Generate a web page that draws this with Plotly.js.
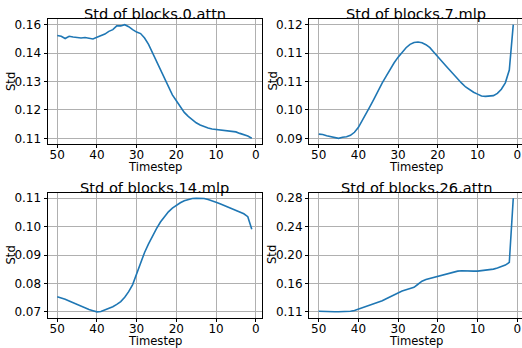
<!DOCTYPE html>
<html>
<head>
<meta charset="utf-8">
<script src="https://cdn.plot.ly/plotly-3.0.1.min.js"></script>
<style>html,body{margin:0;padding:0;background:#fff;}#chart{width:522px;height:348px;}</style>
</head>
<body>
<div id="chart"></div>
<script>
// Timesteps 50 -> 1
const timesteps = [50,49,48,47,46,45,44,43,42,41,40,39,38,37,36,35,34,33,32,31,30,29,28,27,26,25,24,23,22,21,20,19,18,17,16,15,14,13,12,11,10,9,8,7,6,5,4,3,2,1];

const titles = ["Std of blocks.0.attn", "Std of blocks.7.mlp", "Std of blocks.14.mlp", "Std of blocks.26.attn"];

const std_blocks0_attn = [0.1516,0.1513,0.1504,0.1513,0.1510,0.1508,0.1506,0.1508,0.1504,0.1502,0.1509,0.1516,0.1522,0.1533,0.1540,0.1555,0.1555,0.1560,0.1552,0.1540,0.1530,0.1524,0.1506,0.1480,0.1446,0.1412,0.1372,0.1339,0.1305,0.1276,0.1252,0.1227,0.1205,0.1189,0.1174,0.1163,0.1154,0.1147,0.1142,0.1138,0.1136,0.1135,0.1134,0.1131,0.1128,0.1126,0.1120,0.1115,0.1109,0.1100];

const std_blocks7_mlp = [0.0913,0.0912,0.0909,0.0906,0.0905,0.0902,0.0905,0.0906,0.0910,0.0918,0.0931,0.0949,0.0969,0.0988,0.1008,0.1030,0.1049,0.1067,0.1085,0.1102,0.1117,0.1131,0.1142,0.1151,0.1156,0.1157,0.1155,0.1150,0.1142,0.1130,0.1119,0.1106,0.1094,0.1082,0.1070,0.1058,0.1048,0.1038,0.1030,0.1024,0.1019,0.1014,0.1013,0.1013,0.1015,0.1021,0.1032,0.1049,0.1083,0.1203];

const std_blocks14_mlp = [0.0753,0.0749,0.0744,0.0738,0.0732,0.0726,0.0720,0.0713,0.0708,0.0704,0.0700,0.0701,0.0706,0.0711,0.0718,0.0726,0.0736,0.0751,0.0771,0.0796,0.0835,0.0873,0.0909,0.0939,0.0967,0.0993,0.1016,0.1035,0.1052,0.1065,0.1075,0.1084,0.1091,0.1095,0.1099,0.1100,0.1100,0.1099,0.1095,0.1091,0.1086,0.1080,0.1074,0.1068,0.1062,0.1056,0.1051,0.1045,0.1035,0.0991];

const std_blocks26_attn = [0.1164,0.1160,0.1155,0.1155,0.1155,0.1155,0.1155,0.1160,0.1164,0.1174,0.1194,0.1208,0.1228,0.1247,0.1267,0.1291,0.1315,0.1345,0.1374,0.1403,0.1432,0.1457,0.1476,0.1491,0.1510,0.1554,0.1598,0.1622,0.1637,0.1651,0.1666,0.1685,0.1705,0.1719,0.1734,0.1744,0.1749,0.1744,0.1744,0.1744,0.1744,0.1749,0.1754,0.1763,0.1773,0.1788,0.1807,0.1831,0.1870,0.2800];

// Y tick labels as printed (bottom to top)
const yticks_blocks0_attn = ["0.11","0.12","0.13","0.14","0.16"];
const yticks_blocks7_mlp = ["0.09","0.10","0.11","0.11","0.12"];
const yticks_blocks14_mlp = ["0.07","0.08","0.09","0.10","0.11"];
const yticks_blocks26_attn = ["0.11","0.16","0.20","0.24","0.28"];

const xtickvals = [50,40,30,20,10,0];

const series = [std_blocks0_attn, std_blocks7_mlp, std_blocks14_mlp, std_blocks26_attn];
const ytexts = [yticks_blocks0_attn, yticks_blocks7_mlp, yticks_blocks14_mlp, yticks_blocks26_attn];

const W = 522, H = 348;
// panel pixel boxes [left, right, top, bottom]
const boxes = [[47.5,261.5,19,144],[309,523,19,144],[47.5,261.5,192.5,317.5],[309,523,192.5,317.5]];

const font = "DejaVu Sans, sans-serif";
const data = [];
const layout = {
  width: W, height: H,
  margin: {l:0, r:0, t:0, b:0},
  paper_bgcolor: "#fff", plot_bgcolor: "#fff",
  showlegend: false,
  font: {family: font, size: 12, color: "#000"},
  annotations: []
};

series.forEach((ys, i) => {
  const n = i + 1;
  const xa = "x" + (n === 1 ? "" : n), ya = "y" + (n === 1 ? "" : n);
  data.push({x: timesteps, y: ys, type: "scatter", mode: "lines",
    line: {color: "#1f77b4", width: 1.6}, xaxis: xa, yaxis: ya, hoverinfo: "skip"});
  const lo = Math.min(...ys), hi = Math.max(...ys), d = hi - lo;
  const tv = [0,1,2,3,4].map(k => lo + k * d / 4);
  const b = boxes[i];
  const clipped = b[1] > W;
  const common = {
    showline: true, linecolor: "#000", linewidth: 1,
    ticks: "outside", ticklen: 3, tickwidth: 1, tickcolor: "#000",
    showgrid: true, gridcolor: "#b0b0b0", gridwidth: 1,
    zeroline: false, tickfont: {family: font, size: 12, color: "#000"}
  };
  // x range: keep 52.45 .. -1.45 over the full panel width, cut at the page edge
  const fullW = b[1] - b[0];
  const visW = Math.min(b[1], W) - b[0];
  const rightVal = 52.45 - (52.45 + 1.45) * visW / fullW;
  layout["xaxis" + (n === 1 ? "" : n)] = Object.assign({}, common, {
    mirror: true,
    domain: [b[0] / W, Math.min(1, b[1] / W)],
    range: [52.45, rightVal], tickmode: "array", tickvals: xtickvals,
    ticklabelstandoff: -3,
    anchor: ya
  });
  layout["yaxis" + (n === 1 ? "" : n)] = Object.assign({}, common, {
    mirror: !clipped,
    domain: [1 - b[3] / H, 1 - b[2] / H],
    range: [lo - 0.05 * d, hi + 0.05 * d], tickmode: "array", tickvals: tv, ticktext: ytexts[i],
    anchor: xa
  });
  layout.annotations.push({text: titles[i], xref: "paper", yref: "paper",
    x: (b[0] + 107) / W, y: 1 - (b[2] - 5.5) / H, xanchor: "center", yanchor: "middle",
    showarrow: false, font: {family: font, size: 14.6, color: "#000"}});
  layout.annotations.push({text: "Timestep", xref: "paper", yref: "paper",
    x: (b[0] + 107) / W, y: 1 - (b[3] + 23) / H, xanchor: "center", yanchor: "middle",
    showarrow: false, font: {family: font, size: 11.6, color: "#000"}});
  layout.annotations.push({text: "Std", xref: "paper", yref: "paper", textangle: -90,
    x: (b[0] - 37) / W, y: 1 - ((b[2] + b[3]) / 2) / H, xanchor: "center", yanchor: "middle",
    showarrow: false, font: {family: font, size: 11.6, color: "#000"}});
});

Plotly.newPlot("chart", data, layout, {staticPlot: true, displayModeBar: false});
</script>
</body>
</html>
